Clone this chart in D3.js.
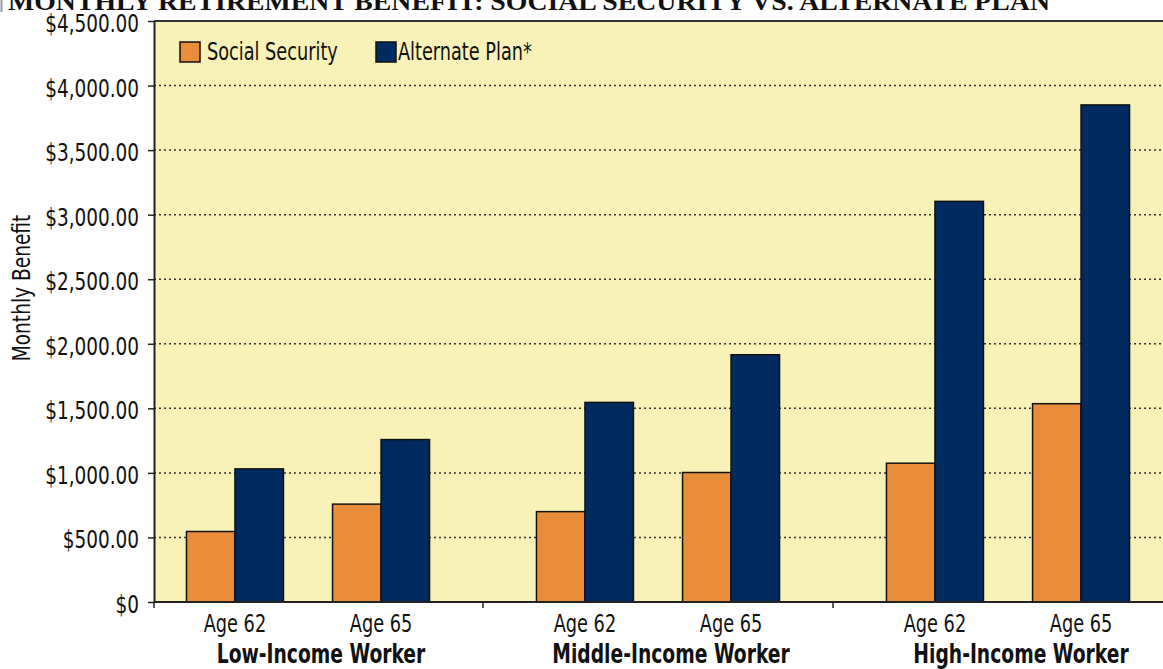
<!DOCTYPE html>
<html>
<head>
<meta charset="utf-8">
<script src="https://cdn.jsdelivr.net/npm/d3@7"></script>
<style>
  body { margin: 0; background: #fff; }
  svg { display: block; }
  text { font-family: "Liberation Sans Narrow", "Arial Narrow", "DejaVu Sans Condensed", "DejaVu Sans", sans-serif; fill: #111; }
</style>
</head>
<body>
<div id="visualization"></div>
<script>
// chart data
const chartTitle = "MONTHLY RETIREMENT BENEFIT: SOCIAL SECURITY VS. ALTERNATE PLAN";
const groups = ["Low-Income Worker", "Middle-Income Worker", "High-Income Worker"];
const ages = ["Age 62", "Age 65"];
const seriesNames = ["Social Security", "Alternate Plan*"];
// one value per (group, age), in group order
const socialSecurity = [546, 758, 700, 1003, 1075, 1536];
const alternatePlan = [1031, 1258, 1546, 1915, 3103, 3850];
const yTicks = [0, 500, 1000, 1500, 2000, 2500, 3000, 3500, 4000, 4500];
const yAxisTitle = "Monthly Benefit";

// squeeze text horizontally, the source uses a condensed face
function condense(sel, k) {
  sel.each(function () {
    var w = this.getComputedTextLength();
    d3.select(this).attr("textLength", w * k).attr("lengthAdjust", "spacingAndGlyphs");
  });
}

class BenefitChart {
  constructor() {
    this.colors = {"Social Security": "#E98D3A", "Alternate Plan*": "#012A5E"};
    this.squeeze = 0.82;
    this.rows = this.buildRows();
    this.buildLayout();
    this.buildSvg();
    this.buildScales();
    this.drawPlotArea();
    this.drawBars();
    this.drawAxes();
    this.drawLegend();
    this.drawTitle();
  }

  buildRows() {
    var rows = [];
    groups.forEach(function (g, gi) {
      ages.forEach(function (a, ai) {
        var i = gi * ages.length + ai;
        rows.push({group: g, age: a, values: [
          {series: seriesNames[0], value: socialSecurity[i]},
          {series: seriesNames[1], value: alternatePlan[i]}
        ]});
      });
    });
    return rows;
  }

  buildLayout() {
    this.width = 1163;
    this.height = 669;
    this.plot = {left: 154, top: 21, bottom: 602, right: 1170};
  }

  buildSvg() {
    this.svg = d3.select("#visualization").append("svg")
      .attr("width", this.width)
      .attr("height", this.height);
  }

  buildScales() {
    this.x0 = d3.scaleBand().domain(groups).range([133, 1183]);
    this.x1 = d3.scaleBand().domain(ages)
      .range([0, this.x0.bandwidth()])
      .paddingInner(0.336)
      .paddingOuter(0.366);
    this.x2 = d3.scaleBand().domain(seriesNames).range([0, this.x1.bandwidth()]);
    this.y = d3.scaleLinear().domain([0, 4500]).range([this.plot.bottom, this.plot.top]);
  }

  drawPlotArea() {
    var p = this.plot, y = this.y;
    this.svg.append("rect")
      .attr("x", p.left).attr("y", p.top)
      .attr("width", p.right - p.left).attr("height", p.bottom - p.top)
      .attr("fill", "#F8F2B8");

    this.svg.append("g").selectAll("line")
      .data(yTicks.filter(function (v) { return v > 0 && v < 4500; }))
      .join("line")
      .attr("x1", p.left).attr("x2", p.right)
      .attr("y1", function (d) { return y(d); })
      .attr("y2", function (d) { return y(d); })
      .attr("stroke", "#333")
      .attr("stroke-width", 1.5)
      .attr("stroke-dasharray", "2,3");

    // top frame line
    this.svg.append("line")
      .attr("x1", p.left).attr("x2", p.right)
      .attr("y1", y(4500)).attr("y2", y(4500))
      .attr("stroke", "#333").attr("stroke-width", 2);
  }

  drawBars() {
    var x0 = this.x0, x1 = this.x1, x2 = this.x2, y = this.y, colors = this.colors;
    var pair = this.svg.append("g").selectAll("g")
      .data(this.rows)
      .join("g")
      .attr("transform", function (d) { return "translate(" + (x0(d.group) + x1(d.age)) + ",0)"; });

    pair.selectAll("rect")
      .data(function (d) { return d.values; })
      .join("rect")
      .attr("x", function (d) { return x2(d.series); })
      .attr("width", x2.bandwidth())
      .attr("y", function (d) { return y(d.value); })
      .attr("height", function (d) { return y(0) - y(d.value); })
      .attr("fill", function (d) { return colors[d.series]; })
      .attr("stroke", "#111")
      .attr("stroke-width", 1.5);
  }

  drawAxes() {
    var p = this.plot, x0 = this.x0, x1 = this.x1, y = this.y, k = this.squeeze;
    var money = d3.format("$,.2f");

    var yAxis = this.svg.append("g")
      .attr("transform", "translate(" + p.left + ",0)")
      .call(d3.axisLeft(y)
        .tickValues(yTicks)
        .tickSize(6)
        .tickSizeOuter(0)
        .tickPadding(9)
        .tickFormat(function (v) { return v === 0 ? "$0" : money(v); }));
    yAxis.select(".domain").attr("stroke", "#222").attr("stroke-width", 2);
    yAxis.selectAll(".tick line").attr("stroke", "#222").attr("stroke-width", 1.5);
    yAxis.selectAll(".tick text")
      .attr("font-family", null)
      .attr("font-size", 25)
      .attr("dy", "0.42em")
      .attr("fill", "#111")
      .call(condense, k);

    // category axis: baseline with ticks between groups
    this.svg.append("line")
      .attr("x1", p.left).attr("x2", p.right)
      .attr("y1", y(0)).attr("y2", y(0))
      .attr("stroke", "#222").attr("stroke-width", 2);

    var bounds = [p.left].concat(groups.slice(1).map(function (g) { return x0(g); }));
    this.svg.append("g").selectAll("line")
      .data(bounds)
      .join("line")
      .attr("x1", function (d) { return d; }).attr("x2", function (d) { return d; })
      .attr("y1", y(0)).attr("y2", y(0) + 6)
      .attr("stroke", "#222").attr("stroke-width", 1.5);

    this.svg.append("g").selectAll("text")
      .data(this.rows)
      .join("text")
      .attr("x", function (d) { return x0(d.group) + x1(d.age) + x1.bandwidth() / 2; })
      .attr("y", 632)
      .attr("text-anchor", "middle")
      .attr("font-size", 24)
      .text(function (d) { return d.age; })
      .call(condense, k);

    this.svg.append("g").selectAll("text")
      .data(groups)
      .join("text")
      .attr("x", function (d) { return x0(d) + x0.bandwidth() / 2 + 13; })
      .attr("y", 663)
      .attr("text-anchor", "middle")
      .attr("font-size", 26)
      .attr("font-weight", "bold")
      .text(function (d) { return d; })
      .call(condense, 0.8);

    this.svg.append("text")
      .attr("transform", "translate(22,288) rotate(-90)")
      .attr("text-anchor", "middle")
      .attr("dominant-baseline", "central")
      .attr("font-size", 24)
      .text(yAxisTitle)
      .call(condense, 0.86);
  }

  drawLegend() {
    var colors = this.colors, k = this.squeeze;
    var offsets = [180, 376];
    var item = this.svg.append("g").selectAll("g")
      .data(seriesNames)
      .join("g")
      .attr("transform", function (d, i) { return "translate(" + offsets[i] + ",42)"; });

    item.append("rect")
      .attr("width", 20).attr("height", 20)
      .attr("fill", function (d) { return colors[d]; })
      .attr("stroke", "#111").attr("stroke-width", 1.5);

    item.append("text")
      .attr("x", function (d, i) { return i === 0 ? 27 : 22; })
      .attr("y", 18)
      .attr("font-size", 24)
      .text(function (d) { return d; })
      .call(condense, k);
  }

  drawTitle() {
    this.svg.append("line")
      .attr("x1", 1.5).attr("x2", 1.5).attr("y1", 0).attr("y2", 12)
      .attr("stroke", "#999").attr("stroke-width", 2);

    this.svg.append("text")
      .attr("x", 8)
      .attr("y", 10)
      .attr("font-weight", "bold")
      .attr("font-size", 26)
      .attr("textLength", 1042)
      .attr("lengthAdjust", "spacingAndGlyphs")
      .style("font-family", "'Liberation Serif', 'Times New Roman', serif")
      .text(chartTitle);
  }
};

new BenefitChart();
</script>
</body>
</html>
